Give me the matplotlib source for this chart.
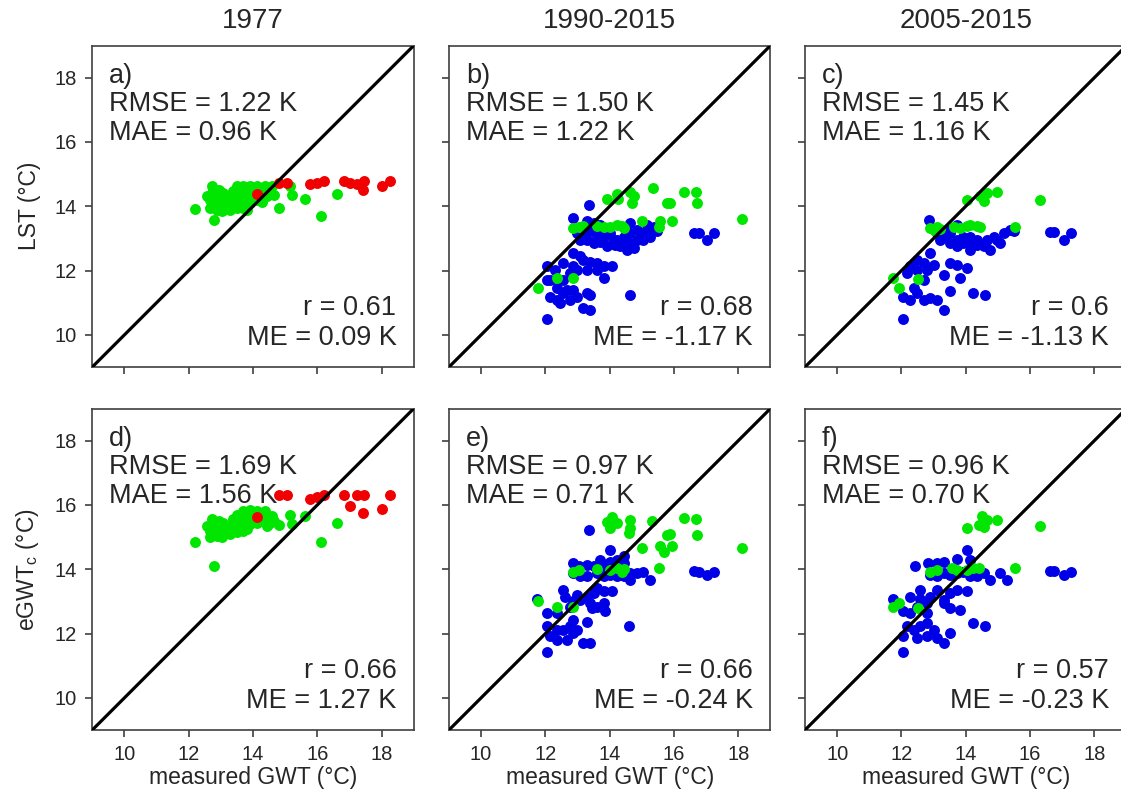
import matplotlib.pyplot as plt

plt.rcParams['font.family'] = 'Liberation Sans'
plt.rcParams['mathtext.fontset'] = 'custom'
plt.rcParams['mathtext.rm'] = 'Liberation Sans'
plt.rcParams['mathtext.it'] = 'Liberation Sans:italic'

# 1977 (panels a and d share the measured GWT)
gwt77_green = [12.72, 12.72, 12.87, 13.08, 13.29, 13.50, 13.70, 13.91, 14.12, 13.50, 13.70, 13.91, 12.67, 12.87,
               13.08, 13.29, 13.50, 13.70, 13.91, 14.12, 12.67, 12.87, 13.08, 13.29, 13.50, 13.70, 13.81, 13.60,
               13.19, 13.39, 12.77, 13.03, 14.02, 14.33, 14.54, 14.43, 14.64, 13.81, 12.56, 12.93,
               12.20, 12.79, 14.80, 15.16, 15.21, 15.63, 16.11, 16.61, 14.28, 14.38, 14.59]
lst77_green = [14.62, 14.41, 14.31, 14.41, 14.31, 14.62, 14.62, 14.62, 14.62, 14.41, 14.36, 14.31, 14.20, 14.10,
               14.20, 14.10, 14.20, 14.10, 14.10, 14.20, 13.94, 13.89, 13.94, 13.89, 13.94, 13.94, 13.87, 14.05,
               14.05, 14.46, 14.00, 13.84, 14.41, 14.46, 14.51, 14.31, 14.36, 14.51, 14.31, 14.51,
               13.91, 13.58, 13.94, 14.62, 14.36, 14.22, 13.70, 14.39, 14.12, 14.62, 14.62]
egwt77_green = [15.55, 15.40, 15.30, 15.45, 15.35, 15.70, 15.80, 15.85, 15.80, 15.50, 15.55, 15.60, 15.20, 15.15,
                15.25, 15.20, 15.35, 15.30, 15.40, 15.45, 15.00, 15.05, 15.10, 15.10, 15.15, 15.20, 15.25, 15.30,
                15.25, 15.55, 15.10, 15.00, 15.65, 15.60, 15.45, 15.35, 15.50, 15.75, 15.35, 15.50,
                14.84, 14.11, 15.39, 15.70, 15.42, 15.65, 14.84, 15.44, 15.55, 15.80, 15.65]
gwt77_red = [14.12, 14.80, 15.05, 15.78, 15.99, 16.20, 16.82, 17.03, 17.24, 17.44, 17.42, 18.01, 18.27]
lst77_red = [14.39, 14.72, 14.72, 14.69, 14.72, 14.80, 14.80, 14.72, 14.69, 14.80, 14.51, 14.62, 14.80]
egwt77_red = [15.62, 16.32, 16.32, 16.20, 16.24, 16.32, 16.32, 15.98, 16.32, 16.32, 15.75, 15.88, 16.32]

# 1990-2015 LST
b_blue_x = [13.37, 12.87, 12.98, 13.18, 13.39, 13.60, 13.81, 14.02, 14.22, 14.43, 14.64, 14.85, 15.05, 15.26, 15.47,
            13.29, 13.50, 13.70, 13.91, 14.12, 14.33, 14.53, 14.74, 13.08, 14.85, 14.64, 13.60, 13.18, 15.26, 15.05,
            14.17, 13.81, 14.43, 13.65, 13.29, 13.50, 13.70, 14.64, 15.16, 15.37,
            12.87, 13.08, 13.18, 13.39, 13.60, 13.81, 14.07, 12.87, 12.56, 12.30, 12.04, 12.77, 12.98, 13.29, 13.60,
            13.81, 12.15, 12.04, 12.56, 12.35, 12.15, 12.35, 12.56, 12.87, 12.98, 13.29, 13.39, 12.77, 14.64, 13.18,
            13.39, 12.05, 12.46, 12.67, 16.61, 16.77, 17.03, 17.23]
b_blue_y = [14.05, 13.63, 13.16, 13.06, 13.22, 13.06, 13.27, 13.16, 12.96, 13.06, 12.85, 12.96, 13.16, 13.27, 13.22,
            12.96, 12.85, 12.90, 12.75, 12.96, 12.75, 12.65, 12.70, 12.96, 13.27, 13.16, 13.22, 13.27, 13.06, 12.96,
            12.80, 13.06, 12.85, 12.96, 13.53, 13.48, 13.42, 13.48, 13.42, 13.37,
            12.54, 12.44, 12.33, 12.28, 12.23, 12.13, 12.13, 12.13, 12.23, 12.02, 12.13, 11.92, 12.02, 12.02, 12.02,
            11.76, 11.71, 11.71, 11.71, 11.45, 11.19, 11.09, 11.30, 11.40, 11.19, 11.30, 11.24, 11.09, 11.24, 10.83,
            10.78, 10.48, 10.98, 11.40, 13.16, 13.16, 12.96, 13.16]
b_green_x = [13.91, 14.22, 14.27, 14.64, 14.69, 15.34, 15.78, 15.88, 16.30, 16.69, 16.71, 18.12, 15.00, 15.57, 15.94,
             15.52, 12.87, 13.03, 13.18, 13.60, 13.81, 14.02, 14.22, 14.38, 14.43, 11.76, 12.35, 12.85, 14.74]
b_green_y = [14.22, 14.39, 14.22, 14.43, 14.10, 14.57, 14.10, 14.10, 14.43, 14.43, 14.10, 13.61, 13.53, 13.53, 13.53,
             13.37, 13.32, 13.37, 13.39, 13.39, 13.35, 13.37, 13.42, 13.39, 13.32, 11.45, 11.76, 11.76, 14.31]

# 2005-2015 LST
c_blue_x = [12.87, 13.10, 13.31, 13.52, 13.73, 13.93, 14.14, 14.35, 14.56, 14.76, 14.97, 15.18, 15.39, 15.49, 13.52,
            13.73, 13.93, 14.14, 14.35, 14.66, 14.87, 15.08, 13.21, 13.41, 13.73, 14.14, 16.63, 16.74, 17.05, 17.26,
            12.89, 12.48, 12.27, 12.69, 13.00, 12.17, 12.48, 12.79, 13.52, 13.73, 14.04, 13.31, 13.83, 13.52, 14.24,
            14.61, 12.06, 12.27, 12.48, 12.69, 12.89, 13.10, 13.31, 12.05, 12.69, 12.38]
c_blue_y = [13.58, 13.16, 13.06, 13.16, 12.96, 13.06, 12.85, 12.96, 12.75, 12.65, 12.96, 13.16, 13.27, 13.22, 12.85,
            12.75, 12.85, 12.65, 12.80, 12.96, 13.06, 12.85, 12.96, 13.27, 13.42, 13.06, 13.19, 13.19, 12.96, 13.16,
            12.54, 12.33, 12.13, 12.23, 12.18, 11.92, 12.02, 12.02, 12.23, 12.18, 12.07, 11.87, 11.76, 11.35, 11.30,
            11.24, 11.19, 11.09, 11.30, 11.09, 11.14, 11.09, 10.78, 10.48, 11.71, 11.45]
c_green_x = [14.04, 14.45, 14.56, 14.66, 14.97, 16.32, 12.89, 13.00, 13.10, 13.21, 13.62, 13.83, 14.04, 14.14, 14.35,
             14.45, 15.54, 11.75, 11.91, 12.53]
c_green_y = [14.18, 14.31, 14.15, 14.41, 14.43, 14.20, 13.32, 13.27, 13.37, 13.29, 13.37, 13.32, 13.39, 13.42, 13.39,
             13.35, 13.37, 11.76, 11.45, 11.73]

# 1990-2015 eGWT
e_blue_x = [13.37, 14.02, 12.87, 13.03, 13.29, 13.50, 13.70, 13.81, 14.02, 14.22, 14.43, 14.64, 14.85, 15.05, 15.26,
            14.64, 14.43, 14.22, 14.02, 13.60, 13.29, 13.08, 12.87, 13.81, 14.43, 14.07, 13.60, 13.81, 13.50, 13.29,
            12.98, 12.56, 12.61, 12.87, 13.08, 13.39, 13.60, 13.81, 11.73, 12.04, 12.35, 12.77, 13.44, 12.87, 13.29,
            13.86, 12.04, 12.35, 12.56, 12.77, 12.98, 12.15, 12.35, 12.67, 12.87, 13.18, 13.39, 12.04, 14.61, 16.61,
            16.77, 17.03, 17.23]
e_blue_y = [15.21, 14.59, 14.19, 14.09, 14.14, 14.09, 14.30, 14.11, 14.24, 14.30, 14.19, 13.88, 13.88, 13.93, 13.67,
            13.67, 13.78, 13.78, 13.83, 13.88, 13.78, 13.80, 13.88, 13.78, 14.40, 13.31, 13.41, 13.31, 13.26, 13.15,
            13.20, 13.36, 13.15, 13.00, 13.05, 12.95, 12.84, 12.95, 13.07, 12.63, 12.63, 12.84, 12.79, 12.43, 12.37,
            12.69, 12.22, 12.12, 12.12, 12.22, 12.12, 11.91, 11.80, 11.80, 12.01, 11.70, 11.70, 11.44, 12.22, 13.96,
            13.93, 13.83, 13.90]
e_green_x = [13.91, 14.07, 14.22, 14.02, 14.64, 14.64, 14.59, 15.31, 15.00, 15.57, 15.68, 15.94, 15.78, 15.88, 16.30,
             16.69, 16.71, 18.12, 15.52, 12.87, 13.03, 13.60, 14.02, 14.22, 14.43, 14.38, 11.76, 12.35, 12.85]
e_green_y = [15.46, 15.64, 15.44, 15.28, 15.54, 15.28, 15.13, 15.49, 14.66, 14.71, 14.55, 14.71, 15.07, 15.10, 15.59,
             15.56, 15.07, 14.66, 14.04, 13.93, 13.98, 14.00, 13.98, 14.04, 14.00, 13.93, 13.00, 12.82, 12.82]

# 2005-2015 eGWT
f_blue_x = [14.04, 12.43, 12.84, 13.10, 13.31, 13.73, 14.14, 12.89, 13.10, 13.31, 13.52, 13.73, 13.93, 14.14, 14.35,
            14.56, 14.76, 15.08, 15.28, 12.58, 12.89, 13.10, 13.31, 13.52, 13.73, 14.04, 11.75, 12.27, 12.58, 12.79,
            13.31, 13.52, 13.83, 12.06, 12.27, 12.48, 12.79, 12.17, 12.38, 12.58, 12.79, 13.00, 12.48, 12.79, 13.10,
            13.31, 13.52, 14.24, 14.61, 12.06, 12.06, 16.63, 16.74, 17.05, 17.26]
f_blue_y = [14.61, 14.11, 14.21, 14.19, 14.24, 14.32, 14.30, 13.83, 13.78, 13.88, 13.83, 13.88, 13.93, 13.78, 13.78,
            13.88, 13.67, 13.88, 13.67, 13.36, 13.15, 13.36, 13.05, 13.26, 13.36, 13.31, 13.07, 13.15, 13.07, 12.95,
            12.95, 12.79, 12.72, 12.69, 12.63, 12.84, 12.63, 12.22, 12.12, 12.22, 12.32, 12.12, 11.85, 11.91, 11.85,
            11.70, 12.01, 12.32, 12.22, 11.91, 11.44, 13.96, 13.96, 13.83, 13.90]
f_green_x = [14.04, 14.40, 14.50, 14.66, 14.97, 14.56, 16.32, 12.89, 13.10, 13.57, 13.73, 14.04, 14.24, 14.40, 15.54,
             11.75, 11.91, 12.53]
f_green_y = [15.28, 15.39, 15.65, 15.54, 15.52, 15.31, 15.35, 13.90, 13.98, 14.04, 13.98, 13.98, 14.04, 14.04, 14.04,
             12.84, 12.95, 12.79]

titles = ['1977', '1990-2015', '2005-2015']
letters = ['a)', 'b)', 'c)', 'd)', 'e)', 'f)']
rmse = ['1.22', '1.50', '1.45', '1.69', '0.97', '0.96']
mae = ['0.96', '1.22', '1.16', '1.56', '0.71', '0.70']
rval = ['0.61', '0.68', '0.6', '0.66', '0.66', '0.57']
me = ['0.09', '-1.17', '-1.13', '1.27', '-0.24', '-0.23']
ticks = [10, 12, 14, 16, 18]

green = '#00e600'
blue = '#0000e6'
red = '#f00000'
txt = '#262626'

panels = [
    [(gwt77_green, lst77_green, green), (gwt77_red, lst77_red, red)],
    [(b_blue_x, b_blue_y, blue), (b_green_x, b_green_y, green)],
    [(c_blue_x, c_blue_y, blue), (c_green_x, c_green_y, green)],
    [(gwt77_green, egwt77_green, green), (gwt77_red, egwt77_red, red)],
    [(e_blue_x, e_blue_y, blue), (e_green_x, e_green_y, green)],
    [(f_blue_x, f_blue_y, blue), (f_green_x, f_green_y, green)],
]

fig = plt.figure(figsize=(11.21, 7.96), dpi=100)
lefts = [0.0823, 0.4005, 0.7181]
bottoms = [0.5389, 0.0829]
w, h = 0.2868, 0.4039

for i in range(6):
    row, col = divmod(i, 3)
    ax = fig.add_axes([lefts[col], bottoms[row], w, h])
    for x, y, c in panels[i]:
        ax.scatter(x, y, s=62, c=c, linewidths=0, zorder=2)
    ax.plot([9, 19], [9, 19], color='black', lw=2.3, zorder=3)
    ax.set_xlim(9, 19)
    ax.set_ylim(9, 19)
    ax.set_xticks(ticks)
    ax.set_yticks(ticks)
    for s in ax.spines.values():
        s.set_color('#404040')
        s.set_linewidth(1.2)
    ax.tick_params(direction='out', length=5, width=1.2, color='#404040', labelsize=14.5,
                   labelcolor=txt, pad=6)
    if col > 0:
        ax.tick_params(labelleft=False)
    if row == 0:
        ax.tick_params(labelbottom=False)
        ax.text(0.5, 1.056, titles[col], transform=ax.transAxes, ha='center', va='baseline',
                fontsize=20, color=txt)
    else:
        ax.set_xlabel('measured GWT (°C)', fontsize=16.5, color=txt)
        ax.xaxis.set_label_coords(0.5, -0.112)
    if col == 0:
        ax.set_ylabel('LST (°C)' if row == 0 else 'eGWT$_{\\mathrm{c}}$ (°C)', fontsize=16.5, color=txt)
        ax.yaxis.set_label_coords(-0.16, 0.5)

    ax.text(0.053, 0.884, letters[i], transform=ax.transAxes, fontsize=19.5, color=txt, va='baseline')
    ax.text(0.053, 0.795, 'RMSE = ' + rmse[i] + ' K', transform=ax.transAxes, fontsize=19.5, color=txt,
            va='baseline')
    ax.text(0.053, 0.707, 'MAE = ' + mae[i] + ' K', transform=ax.transAxes, fontsize=19.5, color=txt,
            va='baseline')
    ax.text(0.946, 0.161, 'r = ' + rval[i], transform=ax.transAxes, fontsize=19.5, color=txt,
            ha='right', va='baseline')
    ax.text(0.946, 0.068, 'ME = ' + me[i] + ' K', transform=ax.transAxes, fontsize=19.5, color=txt,
            ha='right', va='baseline')

fig.savefig('out.png', dpi=100)
